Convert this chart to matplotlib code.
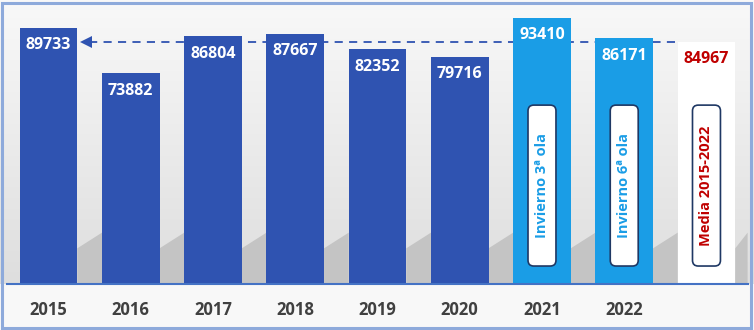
import numpy as np
import matplotlib
matplotlib.use("Agg")
import matplotlib.pyplot as plt
from matplotlib.patches import FancyBboxPatch, Rectangle, Polygon

# ---- data ----
years = ["2015", "2016", "2017", "2018", "2019", "2020", "2021", "2022"]
values = [89733, 73882, 86804, 87667, 82352, 79716, 93410, 86171]
media_value = 84967
media_label = "Media 2015-2022"
box_labels = {6: "Invierno 3ª ola", 7: "Invierno 6ª ola"}

DARK = "#2f53b1"
LIGHT = "#1a9de6"
RED = "#c00000"
FONT = ["Open Sans", "DejaVu Sans"]

W, H = 754, 330
fig = plt.figure(figsize=(W / 100, H / 100), dpi=100)

# background gradient
bg = fig.add_axes([0, 0, 1, 1], zorder=-2)
bg.set_axis_off()
grad = np.zeros((H, 1, 3))
top_c = np.array([0.975, 0.975, 0.975])
mid_c = np.array([0.87, 0.87, 0.87])
low_c = np.array([0.975, 0.975, 0.975])
for r in range(H):
    if r < 284:
        t = r / 284
        grad[r, 0] = top_c * (1 - t) + mid_c * t
    else:
        grad[r, 0] = low_c
bg.imshow(grad, aspect="auto", extent=[0, 1, 0, 1], origin="upper")
bg.set_xlim(0, 1)
bg.set_ylim(0, 1)
bg.add_patch(Rectangle((2 / W, 2 / H), (W - 5) / W, (H - 5) / H,
                       fill=False, edgecolor="#8eaadb", linewidth=2.2,
                       transform=bg.transAxes))

# main axes
ax_left = 7.4 / W
ax_bottom = 46 / H
ax_w = 740.2 / W
ax_h = 280 / H
ax = fig.add_axes([ax_left, ax_bottom, ax_w, ax_h])
ax.set_facecolor("none")
ymax = 280 / 0.002853
ax.set_xlim(-0.5, 8.5)
ax.set_ylim(0, ymax)
for s in ["top", "right", "left"]:
    ax.spines[s].set_visible(False)
ax.spines["bottom"].set_color("#4472c4")
ax.spines["bottom"].set_linewidth(1.5)
ax.set_yticks([])

n = len(years)
x = np.arange(n)
bw = 0.7

# shadows in the gaps (decoration)
for i in range(n + 1):
    x0 = i + bw / 2
    x1 = min(i + 1 - bw / 2, 8.5)
    poly = Polygon([(x0, 0), (x0, 12500), (x1, 18000), (x1, 0)],
                   closed=True, facecolor="#c4c4c4", edgecolor="none", zorder=0.5)
    ax.add_patch(poly)

colors = [DARK] * 6 + [LIGHT] * 2
ax.bar(x, values, width=bw, color=colors, zorder=2)
ax.bar([n], [media_value], width=bw, color="white", zorder=2)

# value labels
for xi, v in zip(x, values):
    ax.annotate(f"{v}", (xi, v), xytext=(0, -12.6), textcoords="offset points",
                ha="center", va="center", color="white", fontsize=11.5,
                fontweight="bold", family=FONT, zorder=3)
ax.annotate(f"{media_value}", (n, media_value), xytext=(0, -12.6),
            textcoords="offset points", ha="center", va="center", color=RED,
            fontsize=11.5, fontweight="bold", family=FONT, zorder=3)

# rounded boxes with rotated labels
aspect = (1 / 0.002853) / (1 / 82.25)
box_w = 0.34
y0, y1 = 6300, 62700
def add_box(xc, text, tcolor):
    p = FancyBboxPatch((xc - box_w / 2, y0), box_w, y1 - y0,
                       boxstyle="round,pad=0,rounding_size=0.07",
                       mutation_aspect=aspect, facecolor="white",
                       edgecolor="#1f3864", linewidth=1.2, zorder=3)
    ax.add_patch(p)
    ax.text(xc, (y0 + y1) / 2, text, rotation=90, ha="center", va="center",
            color=tcolor, fontsize=10.5, fontweight="bold", family=FONT, zorder=4)

for i, t in box_labels.items():
    add_box(i, t, LIGHT)
add_box(n, media_label, RED)

# dashed arrow at the mean level
x_start = n - bw / 2 - 0.03
x_tip = 0 + bw / 2 + 0.09
ax.plot([x_start, x_tip + 0.05], [media_value, media_value], color=DARK,
        linestyle=(0, (4.5, 3.5)), linewidth=1.3, zorder=1.5)
ax.plot([x_tip + 0.02], [media_value], marker="<", markersize=8, color=DARK,
        markeredgewidth=0, zorder=1.6)

# x tick labels
ax.set_xticks(x)
ax.set_xticklabels(years)
ax.tick_params(axis="x", length=0, pad=12)
for lab in ax.get_xticklabels():
    lab.set_fontsize(12)
    lab.set_fontweight("bold")
    lab.set_family(FONT)
    lab.set_color("#404040")

fig.savefig("out.png", dpi=100)
